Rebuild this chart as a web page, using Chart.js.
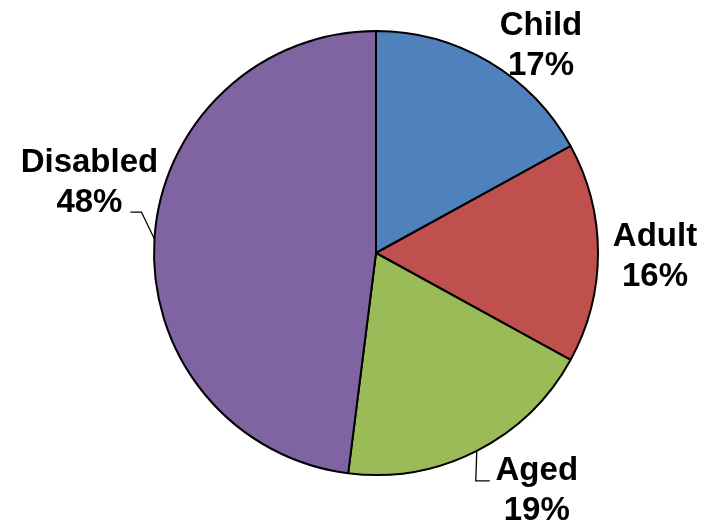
<!DOCTYPE html>
<html>
<head>
<meta charset="utf-8">
<script src="https://cdn.jsdelivr.net/npm/chart.js@4.4.1/dist/chart.umd.min.js"></script>
<style>
  html, body { margin: 0; padding: 0; background: #fff; }
  #wrap { width: 712px; height: 523px; position: relative; }
</style>
</head>
<body>
<div id="wrap"><canvas id="pie-chart"></canvas></div>
<script>
const categories = ['Child', 'Adult', 'Aged', 'Disabled'];
const shares = [17, 16, 19, 48];
const sliceColors = ['#4F81BD', '#C0504D', '#9BBB59', '#8064A2'];

// label placement relative to the point on the rim at each slice's mid angle
const labelLayout = [
  { dx: 52, dy: -19 },
  { dx: 57, dy: 1 },
  { dx: 60, dy: 37, leader: [[-1, 30], [13, 30]] },
  { dx: -65, dy: -59, leader: [[-13, -27], [-24, -27]] }
];

const outsideLabels = {
  id: 'outsideLabels',
  afterDatasetsDraw(chart) {
    const ctx = chart.ctx;
    const arcs = chart.getDatasetMeta(0).data;
    const total = shares.reduce((a, b) => a + b, 0);
    ctx.save();
    arcs.forEach((arc, i) => {
      const { x, y, startAngle, endAngle, outerRadius } = arc.getProps(['x', 'y', 'startAngle', 'endAngle', 'outerRadius'], true);
      const mid = (startAngle + endAngle) / 2;
      const ex = x + Math.cos(mid) * outerRadius;
      const ey = y + Math.sin(mid) * outerRadius;
      const lay = labelLayout[i];

      if (lay.leader) {
        ctx.beginPath();
        ctx.strokeStyle = '#000';
        ctx.lineWidth = 1.3;
        ctx.moveTo(ex, ey);
        lay.leader.forEach(p => ctx.lineTo(ex + p[0], ey + p[1]));
        ctx.stroke();
      }

      const cx = ex + lay.dx;
      const cy = ey + lay.dy;
      ctx.fillStyle = '#000';
      ctx.font = 'bold 33px "Liberation Sans", Arial, sans-serif';
      ctx.textAlign = 'center';
      ctx.textBaseline = 'alphabetic';
      ctx.fillText(categories[i], cx, cy - 8);
      ctx.fillText(Math.round(shares[i] / total * 100) + '%', cx, cy + 32);
    });
    ctx.restore();
  }
};

new Chart(document.getElementById('pie-chart'), {
  type: 'pie',
  data: {
    labels: categories,
    datasets: [{
      data: shares,
      backgroundColor: sliceColors,
      borderColor: '#000',
      borderWidth: 2
    }]
  },
  options: {
    responsive: true,
    maintainAspectRatio: false,
    animation: false,
    layout: { padding: { left: 153, right: 113, top: 30, bottom: 47 } },
    plugins: {
      legend: { display: false },
      tooltip: { enabled: false }
    }
  },
  plugins: [outsideLabels]
});
</script>
</body>
</html>
